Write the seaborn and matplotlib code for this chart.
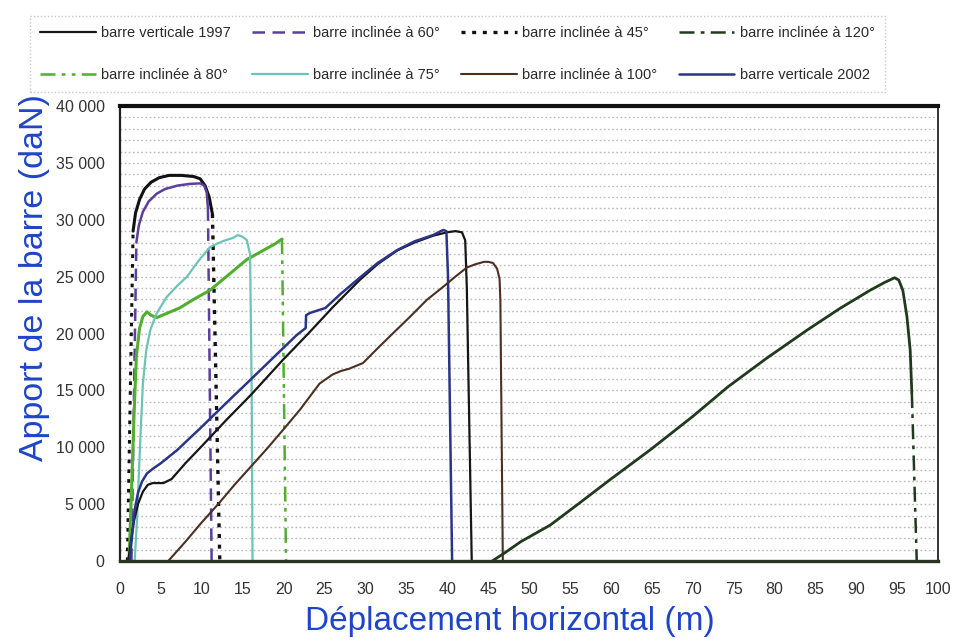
import matplotlib
matplotlib.use("Agg")
import matplotlib.pyplot as plt
from matplotlib.ticker import MultipleLocator, FuncFormatter
import seaborn as sns
import pandas as pd

sns.set_style("white")
plt.rcParams["font.family"] = ["Liberation Sans", "DejaVu Sans"]

# ---------------- data ----------------
labels = ["barre verticale 1997", "barre inclinée à 60°", "barre inclinée à 45°",
          "barre inclinée à 120°", "barre inclinée à 80°", "barre inclinée à 75°",
          "barre inclinée à 100°", "barre verticale 2002"]

# 45° (dotted)
x45 = [0.9, 1.6, 1.9, 2.4, 3.0, 3.8, 4.8, 6.0, 7.5, 9.0, 9.8, 10.4, 10.9, 11.3, 12.2]
y45 = [0, 29000, 30600, 31800, 32700, 33300, 33700, 33900, 33900, 33800, 33600, 33000, 32000, 30500, 0]

# 60° (dashed)
x60 = [1.4, 2.0, 2.3, 2.8, 3.5, 4.5, 5.5, 7.0, 8.5, 9.8, 10.3, 10.6, 10.75, 11.2]
y60 = [0, 28000, 29500, 30700, 31600, 32300, 32700, 33000, 33150, 33200, 33000, 32400, 31000, 0]

# 80° (dash-dot-dot)
x80 = [1.1, 1.4, 1.7, 2.0, 2.4, 2.8, 3.3, 3.8, 4.5, 5.5, 7.3, 9.0, 11.0, 13.0, 15.5, 17.5, 19.0, 19.8, 20.3]
y80 = [0, 6000, 12500, 18000, 20500, 21500, 21900, 21600, 21400, 21700, 22250, 23000, 23800, 25000, 26500,
       27300, 27900, 28300, 0]

# 75° (solid)
x75 = [1.8, 2.1, 2.5, 2.8, 3.2, 3.7, 4.5, 5.7, 7.0, 8.2, 9.5, 11.0, 12.5, 13.8, 14.4, 15.0, 15.5, 15.9, 16.1, 16.2]
y75 = [0, 4000, 11000, 15600, 18500, 20300, 21800, 23200, 24200, 25000, 26300, 27600, 28100, 28400, 28650,
       28500, 28200, 27000, 15000, 0]

# vertical 1997 (solid)
x1997 = [1.0, 1.3, 1.7, 2.2, 2.8, 3.4, 4.0, 5.3, 6.3, 8.0, 10.0, 13.0, 16.0, 19.9, 23.0, 26.0, 29.3, 31.5,
         33.9, 36.0, 38.3, 40.0, 41.0, 41.8, 42.2, 42.4, 43.0]
y1997 = [0, 1500, 3500, 5000, 6100, 6700, 6850, 6850, 7200, 8600, 10100, 12400, 14600, 17670, 19980, 22300,
         24700, 26100, 27300, 28000, 28600, 28900, 29000, 28900, 28200, 24000, 0]

# vertical 2002 (solid)
x2002 = [1.2, 1.5, 1.8, 2.2, 2.7, 3.3, 4.0, 5.0, 7.0, 10.0, 13.0, 15.9, 18.7, 21.6, 22.7, 22.75, 23.2, 25.1,
         27.0, 29.3, 31.5, 33.9, 36.0, 38.3, 39.5, 39.9, 40.1, 40.6]
y2002 = [0, 2500, 4500, 6000, 7000, 7700, 8100, 8600, 9760, 11800, 13900, 15900, 17850, 19860, 20480, 21600,
         21800, 22240, 23500, 24900, 26200, 27340, 28100, 28660, 29100, 29000, 25000, 0]

# 100° (solid)
x100 = [5.9, 8.0, 10.0, 12.0, 14.0, 16.0, 18.0, 19.9, 22.0, 24.4, 26.0, 27.0, 28.0, 29.7, 31.5, 33.4, 35.5,
        37.5, 39.5, 41.0, 42.4, 43.5, 44.5, 45.0, 45.6, 46.1, 46.4, 46.5, 46.8]
y100 = [0, 1700, 3400, 5000, 6700, 8300, 9900, 11500, 13300, 15600, 16400, 16700, 16900, 17400, 18700, 20040,
        21500, 22950, 24100, 25000, 25800, 26100, 26300, 26300, 26200, 25700, 24800, 22900, 0]

# 120° (dash-dot)
x120 = [45.5, 47.0, 49.0, 52.6, 56.0, 60.0, 64.8, 70.0, 74.3, 79.0, 84.0, 88.0, 91.7, 93.5, 94.7, 95.2, 95.7,
        96.2, 96.6, 96.8, 97.4]
y120 = [0, 700, 1700, 3160, 5000, 7200, 9760, 12700, 15300, 17800, 20300, 22200, 23800, 24500, 24900, 24700,
        23800, 21500, 18550, 14770, 0]

x_ticks = list(range(0, 101, 5))
y_ticks = list(range(0, 40001, 5000))

# ---------------- styles ----------------
c1997 = "#161616"; c60 = "#5a3f9b"; c45 = "#111111"; c120 = "#1f3a1c"
c80 = "#52ae2f"; c75 = "#6cc4b6"; c100 = "#4a2f22"; c2002 = "#2b3588"
ls_dash = (0, (5, 3)); ls_dot = (0, (1.2, 2)); ls_dd = (0, (6, 2.5, 1.5, 2.5)); ls_ddd = (0, (6, 2.5, 1.5, 2.5, 1.5, 2.5))

fig = plt.figure(figsize=(9.67, 6.41), dpi=100)
ax = fig.add_axes([120/967, 1-561/641, 818/967, 455/641])

handles = {}

def seg(x, y, color, ls, lw, label=None):
    df = pd.DataFrame({"x": x, "y": y})
    sns.lineplot(data=df, x="x", y="y", sort=False, estimator=None, color=color,
                 linestyle=ls, lw=lw, ax=ax, legend=False)
    line = ax.lines[-1]
    if label:
        handles[label] = line
    return line

# 45°: styled rise, solid body, dotted drop
seg(x45[:2], y45[:2], c45, ls_dot, 2.2)
seg(x45[1:-1], y45[1:-1], c45, "-", 2.2)
seg(x45[-2:], y45[-2:], c45, ls_dot, 2.4, labels[2])
# 60°
seg(x60[:2], y60[:2], c60, ls_dash, 1.8)
seg(x60[1:-1], y60[1:-1], c60, "-", 1.8)
seg(x60[-2:], y60[-2:], c60, ls_dash, 1.8, labels[1])
# 80°
seg(x80[:-1], y80[:-1], c80, "-", 2.2)
seg(x80[-2:], y80[-2:], c80, ls_ddd, 1.8, labels[4])
# 75°
seg(x75, y75, c75, "-", 1.6, labels[5])
# 1997
seg(x1997, y1997, c1997, "-", 1.6, labels[0])
# 2002
seg(x2002, y2002, c2002, "-", 1.8, labels[7])
# 100°
seg(x100, y100, c100, "-", 1.5, labels[6])
# 120°
seg(x120[:-1], y120[:-1], c120, "-", 2.0)
seg(x120[-2:], y120[-2:], c120, ls_dd, 1.8, labels[3])

# ---------------- axes ----------------
ax.set_xlim(0, 100)
ax.set_ylim(0, 40000)
ax.set_xticks(x_ticks)
ax.set_yticks(y_ticks)
ax.xaxis.set_minor_locator(MultipleLocator(1))
ax.yaxis.set_minor_locator(MultipleLocator(1000))
ax.yaxis.set_major_formatter(FuncFormatter(lambda v, p: f"{int(v):,}".replace(",", " ")))
ax.tick_params(axis="x", which="major", direction="inout", length=6, width=0.8, color="#555555",
               labelsize=11.5, labelcolor="#333333", pad=12)
ax.tick_params(axis="x", which="minor", direction="inout", length=4, width=0.6, color="#777777")
ax.tick_params(axis="y", which="major", direction="out", length=4, width=0.8, color="#555555",
               labelsize=11.5, labelcolor="#333333", pad=7)
ax.tick_params(axis="y", which="minor", length=0)
ax.grid(False)
ax.yaxis.grid(True, which="both", color="#b9b9b9", linestyle=(0, (1.2, 1.8)), lw=1.0)
ax.set_axisbelow(True)

for side, lw, col in [("top", 3.0, "#111111"), ("bottom", 2.4, "#2a3320"),
                      ("left", 1.6, "#222222"), ("right", 1.4, "#333333")]:
    ax.spines[side].set_visible(True)
    ax.spines[side].set_linewidth(lw)
    ax.spines[side].set_color(col)

blue = "#1e44c8"
ax.set_xlabel("Déplacement horizontal (m)", fontsize=24, color=blue)
ax.xaxis.set_label_coords(0.477, -0.134)
ax.set_ylabel("Apport de la barre (daN)", fontsize=24.5, color=blue)
ax.yaxis.set_label_coords(-0.104, 0.624)
ax.xaxis.label.set_va("center")
ax.yaxis.label.set_va("center")

# legend: matplotlib fills column-wise, so order column by column
order = [labels[0], labels[4], labels[1], labels[5], labels[2], labels[6], labels[3], labels[7]]
leg = fig.legend([handles[l] for l in order], order, loc="lower left",
                 bbox_to_anchor=(30/967, 1-92/641, 855/967, 80/641), mode="expand", ncol=4,
                 fontsize=10.5, handlelength=3.8, handletextpad=0.4, borderaxespad=0.0,
                 labelspacing=1.9, fancybox=False, frameon=True, borderpad=0.7, columnspacing=0.8)
leg.get_frame().set_edgecolor("#bbbbbb")
leg.get_frame().set_linestyle((0, (1, 1.5)))
leg.get_frame().set_linewidth(1.0)
for t in leg.get_texts():
    t.set_color("#2a2a2a")

fig.savefig("out.png", dpi=100)
